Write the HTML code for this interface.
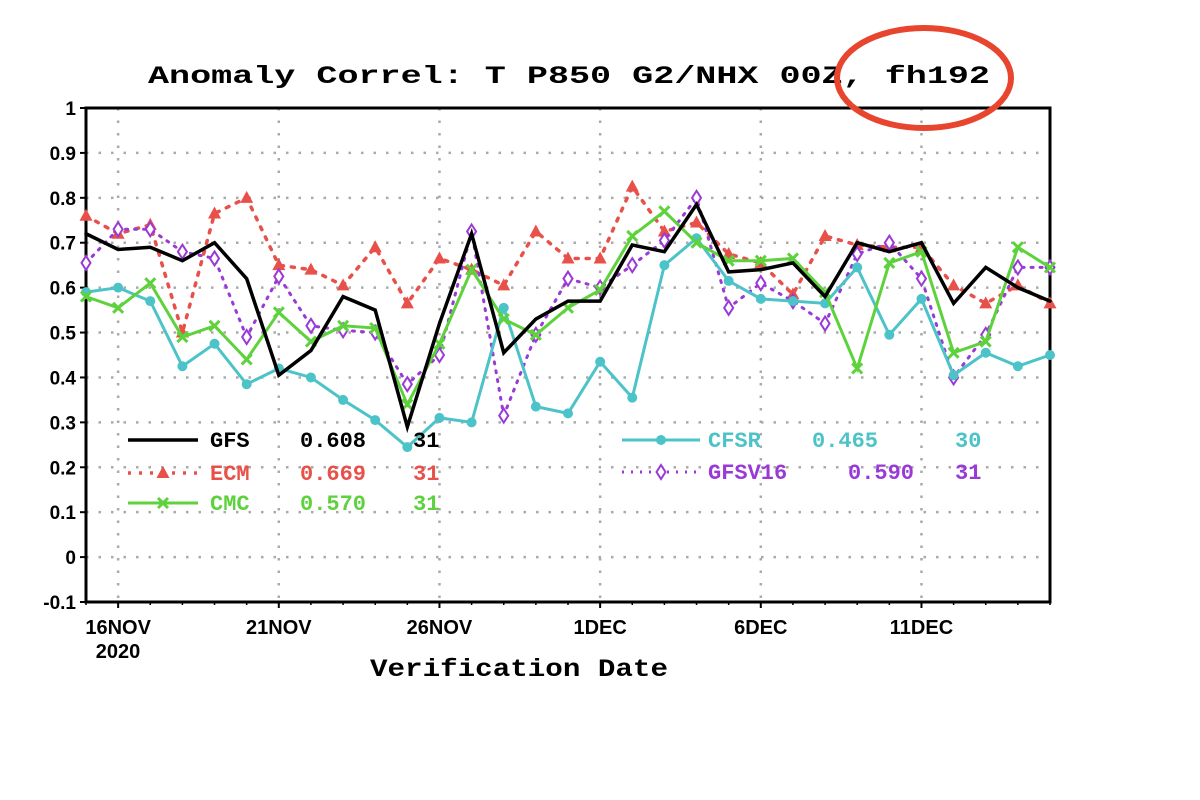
<!DOCTYPE html>
<html><head><meta charset="utf-8"><style>body{margin:0;background:#fff}svg{display:block}</style></head>
<body>
<svg id="s" width="1200" height="800" xmlns="http://www.w3.org/2000/svg" font-family="'Liberation Mono',monospace" font-weight="bold"></svg>
<script>
const L=86,R=1050,T=108,B=602;
const X=i=>L+i*(R-L)/30, Y=v=>T+(1-v)*(B-T)/1.1;
let h='';
for(let k=0;k<=11;k++){const v=1-k*0.1,y=Y(v);
 if(k>0&&k<11)h+=`<line x1="${L}" x2="${R}" y1="${y}" y2="${y}" stroke="#aaa" stroke-width="2.5" stroke-dasharray="2.5,10"/>`;
 h+=`<line x1="${L-6}" x2="${L}" y1="${y}" y2="${y}" stroke="#000" stroke-width="2"/>`;
 h+=`<text x="${L-10}" y="${y+7}" text-anchor="end" font-family="'Liberation Sans',sans-serif" font-size="19">${(Math.round(v*10)/10).toString()}</text>`;}
const ds=[1,6,11,16,21,26],dl=['16NOV','21NOV','26NOV','1DEC','6DEC','11DEC'];
ds.forEach((d,j)=>{const x=X(d);h+=`<line x1="${x}" x2="${x}" y1="${T}" y2="${B}" stroke="#aaa" stroke-width="2.5" stroke-dasharray="2.5,10"/>`;
 h+=`<line x1="${x}" x2="${x}" y1="${B}" y2="${B+6}" stroke="#000" stroke-width="2"/>`;
 h+=`<text x="${x}" y="${B+32}" text-anchor="middle" font-family="'Liberation Sans',sans-serif" font-size="20">${dl[j]}</text>`;});
for(let i=0;i<=30;i++){const x=X(i);h+=`<line x1="${x}" x2="${x}" y1="${B}" y2="${B+3}" stroke="#000" stroke-width="1.5"/>`;}
h+=`<text x="118" y="${B+56}" text-anchor="middle" font-family="'Liberation Sans',sans-serif" font-size="20">2020</text>`;
h+=`<rect x="${L}" y="${T}" width="${R-L}" height="${B-T}" fill="none" stroke="#000" stroke-width="3"/>`;
const S=[
{c:'#000',d:'',w:3.5,m:'',v:[0.72,0.685,0.69,0.66,0.70,0.62,0.405,0.46,0.58,0.55,0.29,0.52,0.72,0.455,0.53,0.57,0.57,0.695,0.68,0.785,0.635,0.64,0.655,0.58,0.70,0.68,0.70,0.565,0.645,0.60,0.57]},
{c:'#e8504a',d:'3,8',w:3.5,m:'tri',v:[0.76,0.72,0.74,0.50,0.765,0.80,0.65,0.64,0.605,0.69,0.565,0.665,0.64,0.605,0.725,0.665,0.665,0.825,0.725,0.745,0.675,0.655,0.585,0.715,0.695,0.69,0.69,0.605,0.565,0.605,0.565]},
{c:'#5ed23c',d:'',w:3,m:'x',v:[0.58,0.555,0.61,0.49,0.515,0.44,0.545,0.48,0.515,0.51,0.34,0.475,0.64,0.53,0.495,0.555,0.595,0.715,0.77,0.70,0.66,0.66,0.665,0.59,0.42,0.655,0.68,0.455,0.48,0.69,0.645]},
{c:'#4cc3c8',d:'',w:3,m:'dot',v:[0.59,0.60,0.57,0.425,0.475,0.385,0.42,0.40,0.35,0.305,0.245,0.31,0.30,0.555,0.335,0.32,0.435,0.355,0.65,0.71,0.615,0.575,0.57,0.565,0.645,0.495,0.575,0.405,0.455,0.425,0.45]},
{c:'#9a3ad6',d:'2,7',w:3,m:'dia',v:[0.655,0.73,0.73,0.68,0.665,0.49,0.625,0.515,0.505,0.50,0.385,0.45,0.725,0.315,0.495,0.62,0.60,0.65,0.705,0.80,0.555,0.61,0.57,0.52,0.675,0.70,0.62,0.40,0.495,0.645,0.645]}];
function mk(m,x,y,c){
 if(m=='tri')return `<polygon points="${x},${y-7} ${x-6.5},${y+5} ${x+6.5},${y+5}" fill="${c}"/>`;
 if(m=='x')return `<path d="M${x-5} ${y-5}L${x+5} ${y+5}M${x-5} ${y+5}L${x+5} ${y-5}" stroke="${c}" stroke-width="3"/>`;
 if(m=='dot')return `<circle cx="${x}" cy="${y}" r="5" fill="${c}"/>`;
 if(m=='dia')return `<polygon points="${x},${y-7} ${x+4.5},${y} ${x},${y+7} ${x-4.5},${y}" fill="#fff" stroke="${c}" stroke-width="2"/>`;return '';}
[1,4,3,2,0].forEach(k=>{const s=S[k];
 h+=`<polyline fill="none" stroke="${s.c}" stroke-width="${s.w}" stroke-linecap="round" ${s.d?`stroke-dasharray="${s.d}"`:''} points="${s.v.map((v,i)=>X(i)+','+Y(v)).join(' ')}"/>`;
 s.v.forEach((v,i)=>h+=mk(s.m,X(i),Y(v),s.c));});
const lg=[[0,128,198,447,'GFS','0.608','31',210,300,413],[1,128,198,480,'ECM','0.669','31',210,300,413],[2,128,198,510,'CMC','0.570','31',210,300,413],
[3,622,700,447,'CFSR','0.465','30',708,812,955],[4,622,700,479,'GFSV16','0.590','31',708,850,955]];
lg.forEach(([k,a,b,y,n,v,c,tx,vx,cx])=>{const s=S[k];
 h+=`<line x1="${a}" x2="${b}" y1="${y-7}" y2="${y-7}" stroke="${s.c}" stroke-width="${s.w}" ${s.d?`stroke-dasharray="${s.d}"`:''}/>`+mk(s.m,(a+b)/2,y-7,s.c);
 h+=`<text fill="${s.c}" font-size="22" y="${y}"><tspan x="${tx}">${n}</tspan><tspan x="${k==4?848:vx}">${v}</tspan><tspan x="${cx}">${c}</tspan></text>`;});
h+=`<text x="148" y="83" font-size="25" textLength="842" lengthAdjust="spacingAndGlyphs">Anomaly Correl: T P850 G2/NHX 00Z, fh192</text>`;
h+=`<text x="370" y="676" font-size="25" textLength="298" lengthAdjust="spacingAndGlyphs">Verification Date</text>`;
h+=`<ellipse cx="924" cy="78" rx="87" ry="50" fill="none" stroke="#e8452f" stroke-width="6"/>`;
document.getElementById('s').innerHTML=h;
</script>
</body></html>
